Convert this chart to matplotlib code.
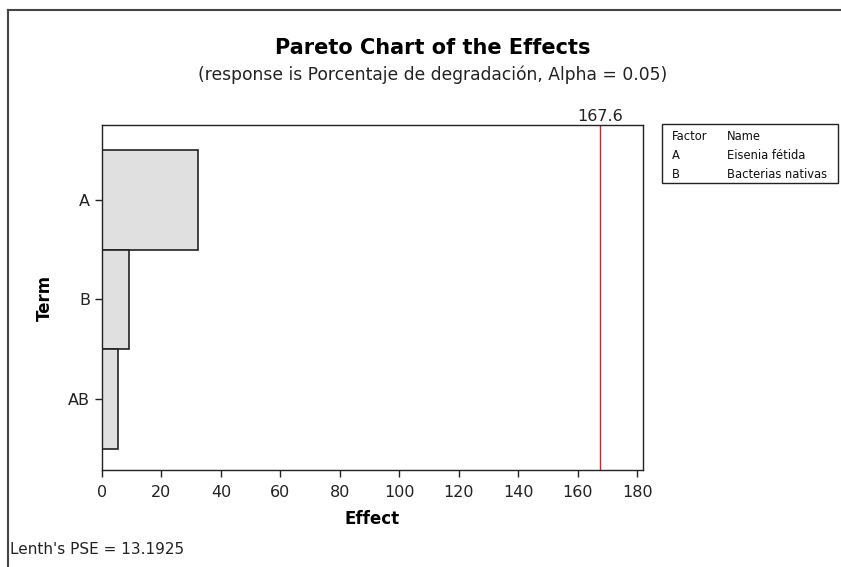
import matplotlib.pyplot as plt
from matplotlib.lines import Line2D
from matplotlib.patches import Rectangle

plt.rcParams['font.family'] = ['DejaVu Sans']

# Standardized effects, largest first
terms = ["A", "B", "AB"]
effects = [32.3, 9.1, 5.4]
critical = 167.6
pse = 13.1925
factors = ["A", "B"]
names = ["Eisenia fétida", "Bacterias nativas"]

fig = plt.figure(figsize=(8.41, 5.67), dpi=100)
ax = fig.add_axes([0.1213, 0.1711, 0.6433, 0.6085])

pos = list(range(len(terms)))
ax.barh(pos, effects, height=1.0, color="#e0e0e0", edgecolor="#222222", linewidth=1.2)
ax.axvline(critical, color="#e02020", linewidth=1.0)

ax.set_xlim(0, 182)
ax.set_ylim(2.71, -0.75)
ax.set_xticks(range(0, 181, 20))
ax.set_yticks(pos)
ax.set_yticklabels(terms)
ax.tick_params(direction="out", length=5, width=1, labelsize=11.5, colors="#222222")
ax.tick_params(axis="x", pad=6)
for s in ax.spines.values():
    s.set_linewidth(1.0)
    s.set_color("#222222")

ax.set_xlabel("Effect", fontsize=12, fontweight="bold", labelpad=7)
ax.set_ylabel("Term", fontsize=12, fontweight="bold", labelpad=10)

ax.text(critical, 1.003, f"{critical}", transform=ax.get_xaxis_transform(),
        ha="center", va="bottom", fontsize=11.5, color="#222222")

fig.text(0.515, 0.915, "Pareto Chart of the Effects", ha="center", va="center",
         fontsize=15, fontweight="bold")
fig.text(0.515, 0.868, "(response is Porcentaje de degradación, Alpha = 0.05)",
         ha="center", va="center", fontsize=12.3, color="#222222")
fig.text(0.012, 0.030, f"Lenth's PSE = {pse}", ha="left", va="center",
         fontsize=11, color="#222222")

# Factor key box
fig.add_artist(Rectangle((662 / 841, 1 - 183 / 567), 176 / 841, 59 / 567,
                         transform=fig.transFigure, fill=False,
                         edgecolor="#222222", linewidth=1.0))
rows = [("Factor", "Name")] + list(zip(factors, names))
for i, (f, n) in enumerate(rows):
    y = 1 - (137 + i * 18.5) / 567
    fig.text(672 / 841, y, f, fontsize=8.3, va="center", color="#111111")
    fig.text(727 / 841, y, n, fontsize=8.3, va="center", color="#111111")

# Outer frame (top and left edges)
fig.add_artist(Line2D([8 / 841, 1], [1 - 10 / 567, 1 - 10 / 567],
                      transform=fig.transFigure, color="#444444", linewidth=1.5))
fig.add_artist(Line2D([8 / 841, 8 / 841], [0, 1 - 10 / 567],
                      transform=fig.transFigure, color="#444444", linewidth=1.5))

fig.savefig("out.png", dpi=100, facecolor="white")
